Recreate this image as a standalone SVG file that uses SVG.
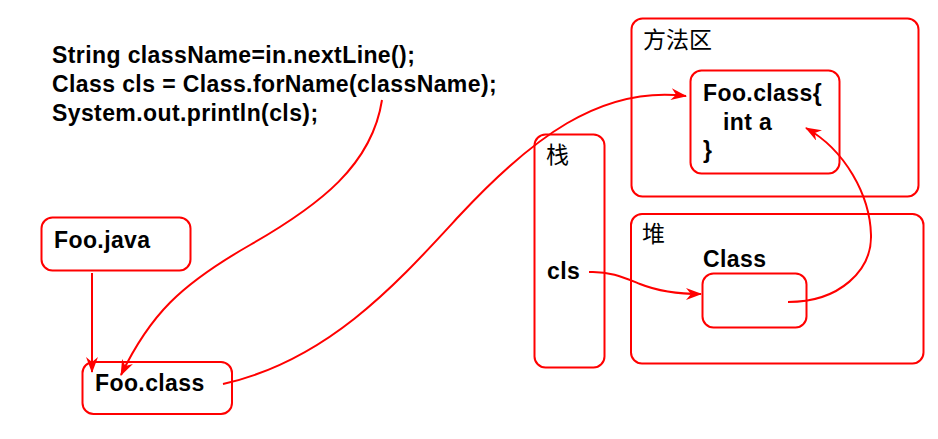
<svg xmlns="http://www.w3.org/2000/svg" width="938" height="439" viewBox="0 0 938 439">
  <style>
    .box { fill: none; stroke: #ff0000; stroke-width: 2; }
    .t { font-family: "Liberation Sans", Arial, sans-serif; font-weight: bold; font-size: 23px; letter-spacing: 0.4px; fill: #000; }
    .cjk { font-family: "Noto Sans CJK SC", "Noto Sans", sans-serif; font-size: 23px; fill: #000; }
    .edge { fill: none; stroke: #ff0000; stroke-width: 2; }
  </style>
  <defs>
    <marker id="arr" viewBox="0 0 16 12" markerWidth="16" markerHeight="12" refX="15" refY="6" orient="auto" markerUnits="userSpaceOnUse">
      <path d="M0,0 L16,6 L0,12 L5,6 z" fill="#ff0000"/>
    </marker>
  </defs>
  <rect width="938" height="439" fill="#ffffff"/>

  <g id="code">
    <text class="t" x="52" y="63">String className=in.nextLine();</text>
    <text class="t" x="52" y="92">Class cls = Class.forName(className);</text>
    <text class="t" x="52" y="121">System.out.println(cls);</text>
  </g>

  <g id="method-area">
    <rect class="box" x="631.5" y="18.5" width="287" height="178" rx="11"/>
    <text class="cjk" x="643" y="48">方法区</text>
  </g>
  <g id="foo-class-def">
    <rect class="box" x="690.5" y="70.5" width="149" height="103" rx="11"/>
    <text class="t" x="703" y="101">Foo.class{</text>
    <text class="t" x="723" y="129.5">int a</text>
    <text class="t" x="703" y="158">}</text>
  </g>
  <g id="stack">
    <rect class="box" x="534.5" y="134.5" width="70" height="233" rx="11"/>
    <text class="cjk" x="546" y="163">栈</text>
    <text class="t" x="547" y="279">cls</text>
  </g>
  <g id="heap">
    <rect class="box" x="631" y="214" width="292.5" height="149.5" rx="11"/>
    <text class="cjk" x="642" y="242">堆</text>
    <text class="t" x="703" y="267">Class</text>
  </g>
  <g id="class-obj">
    <rect class="box" x="702.5" y="273.5" width="104" height="54" rx="11"/>
  </g>
  <g id="foo-java">
    <rect class="box" x="41.5" y="217.5" width="149" height="53" rx="11"/>
    <text class="t" x="54" y="248">Foo.java</text>
  </g>
  <g id="foo-class-file">
    <rect class="box" x="82.5" y="362" width="149.5" height="52" rx="11"/>
    <text class="t" x="95" y="391">Foo.class</text>
  </g>

  <g id="connectors">
    <path class="edge" d="M92,273 L92,372" marker-end="url(#arr)"/>
    <path class="edge" d="M382,100 C372,165 320,205 250,245 S150,315 121,375" marker-end="url(#arr)"/>
    <path class="edge" d="M223,384 C330,360 400,280 460,215 C530,140 600,85 686,96" marker-end="url(#arr)"/>
    <path class="edge" d="M589,272 C610,271 625,278 640,284 S675,294 701,294" marker-end="url(#arr)"/>
    <path class="edge" d="M788,302 C840,302 872,270 871,235 C870,195 845,150 806,128" marker-end="url(#arr)"/>
  </g>
</svg>
